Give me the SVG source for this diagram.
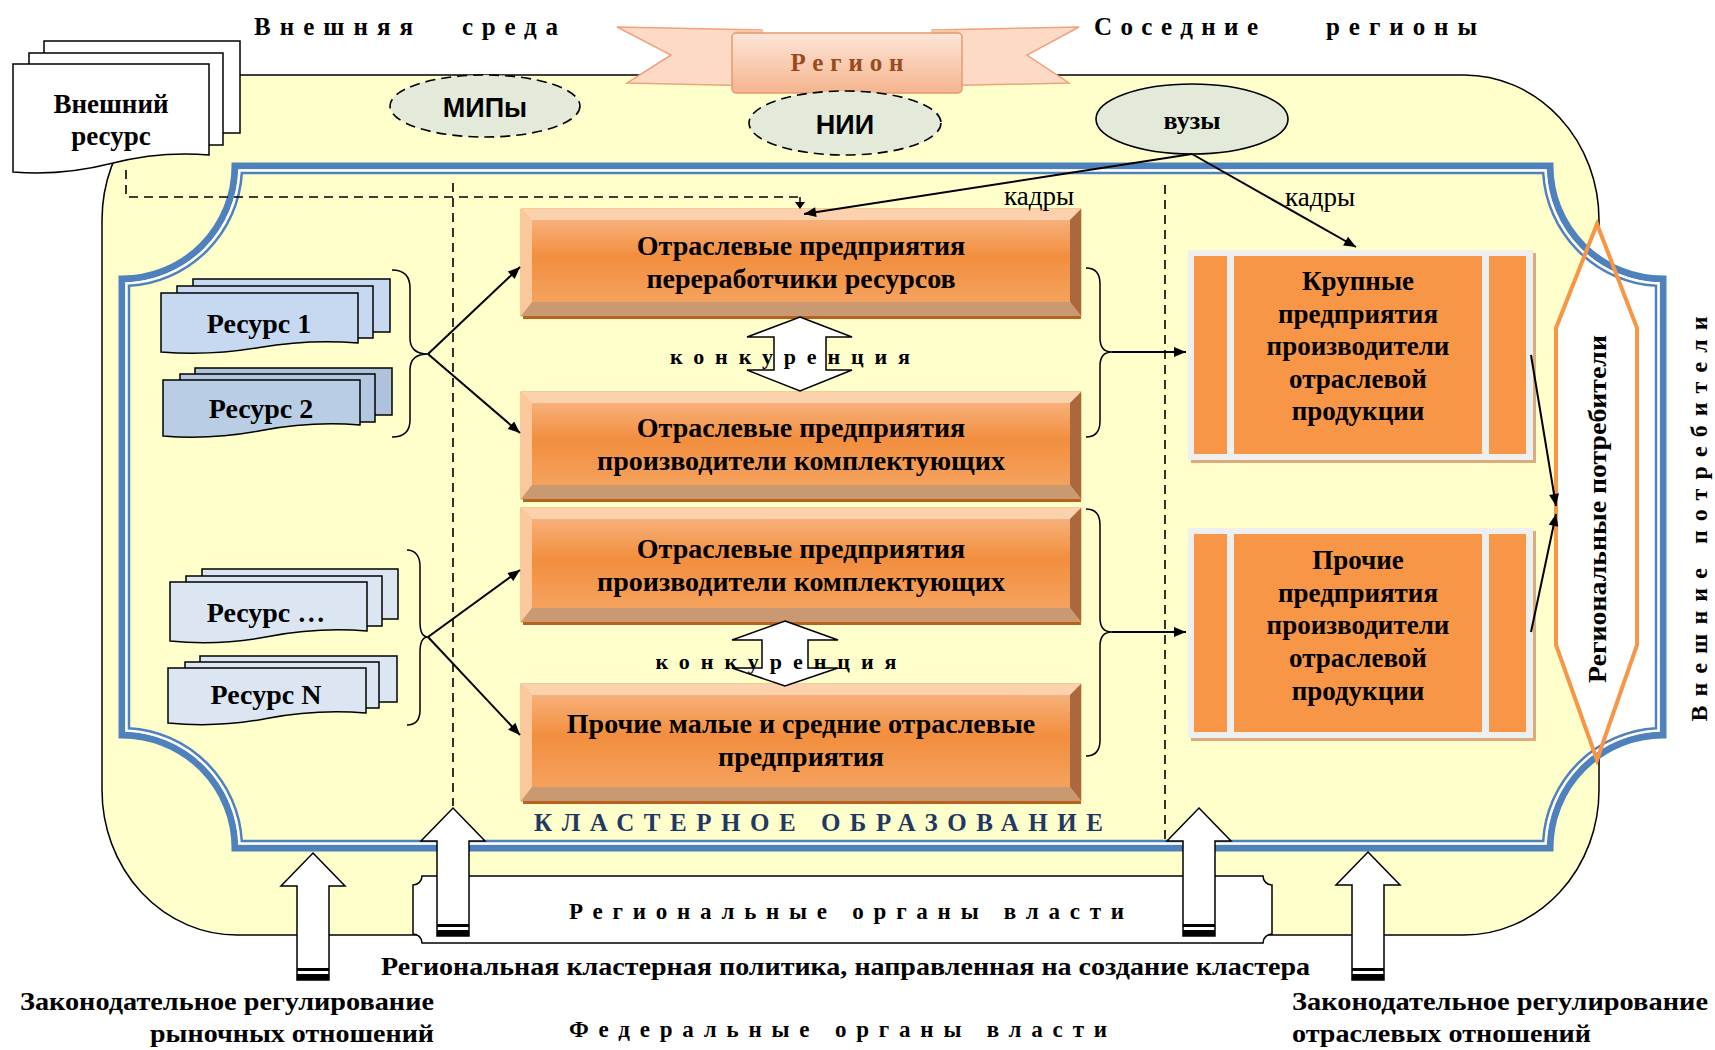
<svg xmlns="http://www.w3.org/2000/svg" width="1715" height="1050" viewBox="0 0 1715 1050">
<defs>
<style>
text{font-family:"Liberation Serif","Times New Roman",serif;font-weight:bold;fill:#000}
.sans{font-family:"Liberation Sans",Arial,sans-serif}
.c{text-anchor:middle}
.bt{font-size:28px}
.rt{font-size:27px}
.bx-o{fill:#f8b584;stroke:#ee9a55;stroke-width:1}
.bv-t{fill:#fcd2ae}
.bv-l{fill:#fbc89e}
.bv-r{fill:#a9683e}
.bv-b{fill:#c99a72}
.bx-s{fill:#b8621e}
.face{fill:url(#face)}
.ln{stroke:#000;stroke-width:2;fill:none}
.br{stroke:#000;stroke-width:1.5;fill:none}
.dash{stroke:#000;stroke-width:1.6;stroke-dasharray:9 6;fill:none}
.doc{stroke:#000;stroke-width:1.5}
.ua{fill:#fff;stroke:#000;stroke-width:1.5}
.ell{fill:#e4ead9;stroke:#000;stroke-width:1.6}
.strip{fill:#f79646}
.rbo{fill:#efefef}
.rbs{fill:#d9ad7f}
.r1{fill:#c6d9f1}
.r2{fill:#b9cde5}
.r3{fill:#dce6f2}
</style>
<linearGradient id="face" x1="0" y1="0" x2="0" y2="1">
<stop offset="0" stop-color="#f7b07a"/><stop offset="0.45" stop-color="#f28e3e"/><stop offset="1" stop-color="#f5a25e"/>
</linearGradient>
<linearGradient id="ban" x1="0" y1="0" x2="0" y2="1">
<stop offset="0" stop-color="#fde6d8"/><stop offset="1" stop-color="#f5b48e"/>
</linearGradient>
<marker id="ah" viewBox="0 0 12 10" refX="12" refY="5" markerWidth="13" markerHeight="10" markerUnits="userSpaceOnUse" orient="auto"><path d="M0,0 L12,5 L0,10 z" fill="#000"/></marker>
</defs>
<rect width="1715" height="1050" fill="#fff"/>

<g id="region">
<rect x="102" y="75" width="1497" height="860" rx="135" ry="145" fill="#ffffcc" stroke="#000" stroke-width="1.5"/>
</g>

<g id="banner">
<polygon points="617,27 762,30 762,86 627,83 671,55" fill="#fddac6" stroke="#f0a27a" stroke-width="1.5"/>
<polygon points="1079,27 932,30 932,86 1069,83 1027,55" fill="#fddac6" stroke="#f0a27a" stroke-width="1.5"/>
<polygon points="735,30 762,30 762,86 735,86" fill="#f8c7ab"/>
<polygon points="932,30 959,30 959,86 932,86" fill="#f8c7ab"/>
<rect x="732" y="33" width="230" height="60" rx="4" fill="url(#ban)" stroke="#e59a70" stroke-width="1.5"/>
<text x="847" y="71" class="c" font-size="25" style="fill:#9a4b1c" textLength="113" lengthAdjust="spacing">Регион</text>
</g>

<g id="titles">
<text x="254" y="35" font-size="25" textLength="159" lengthAdjust="spacing">Внешняя</text>
<text x="462" y="35" font-size="25" textLength="96" lengthAdjust="spacing">среда</text>
<text x="1094" y="35" font-size="25" textLength="164" lengthAdjust="spacing">Соседние</text>
<text x="1326" y="35" font-size="25" textLength="151" lengthAdjust="spacing">регионы</text>
</g>

<g id="external-resource">
<rect x="44" y="41" width="196" height="92" fill="#fff" class="doc"/>
<rect x="29" y="53" width="194" height="92" fill="#fff" class="doc"/>
<path d="M13,64 H209 V155 Q160,151 111,163.5 T13,172 Z" fill="#fff" class="doc"/>
<text x="111" y="113" class="c rt">Внешний</text>
<text x="111" y="145" class="c rt">ресурс</text>
</g>

<g id="mips">
<ellipse cx="485" cy="106" rx="95" ry="31" class="ell" stroke-dasharray="10 6"/>
<text x="485" y="117" class="c sans" font-size="27">МИПы</text>
</g>
<g id="nii">
<ellipse cx="845" cy="123" rx="96" ry="32" class="ell" stroke-dasharray="10 6"/>
<text x="845" y="134" class="c sans" font-size="27">НИИ</text>
</g>
<g id="vuzy">
<ellipse cx="1192" cy="119" rx="96" ry="35" class="ell"/>
<text x="1192" y="129" class="c" font-size="26">вузы</text>
</g>

<g id="regional-consumers">
<polygon points="1597,224 1637,328 1637,645 1597,760 1556,645 1556,328" fill="#fff"/>
</g>

<g id="cluster-frame">
<path d="M235,166 H1550 A113,113 0 0 0 1663,279 V735 A113,113 0 0 0 1550,848 H235 A113,113 0 0 0 122,735 V279 A113,113 0 0 0 235,166 Z" fill="none" stroke="#4f81bd" stroke-width="7"/>
<path d="M239.4,170.5 H1545.6 A117.5,117.5 0 0 0 1658.5,283.4 V730.6 A117.5,117.5 0 0 0 1545.6,843.5 H239.4 A117.5,117.5 0 0 0 126.5,730.6 V283.4 A117.5,117.5 0 0 0 239.4,170.5 Z" fill="none" stroke="#fff" stroke-width="2.5"/>
<path d="M241.8,173 H1543.2 A120,120 0 0 0 1656,285.8 V728.2 A120,120 0 0 0 1543.2,841 H241.8 A120,120 0 0 0 129,728.2 V285.8 A120,120 0 0 0 241.8,173 Z" fill="none" stroke="#4f81bd" stroke-width="2.5"/>
<text x="534" y="831" font-size="25" style="fill:#1f3864" textLength="569" lengthAdjust="spacing">КЛАСТЕРНОЕ ОБРАЗОВАНИЕ</text>
</g>

<g id="regional-consumers-outline">
<polygon points="1597,224 1637,328 1637,645 1597,760 1556,645 1556,328" fill="none" stroke="#f79646" stroke-width="4"/>
<text transform="translate(1606,509) rotate(-90)" class="c" font-size="25" textLength="348" lengthAdjust="spacingAndGlyphs">Региональные потребители</text>
</g>

<g id="external-consumers">
<text transform="translate(1707,519) rotate(-90)" class="c" font-size="24" textLength="405" lengthAdjust="spacing">Внешние потребители</text>
</g>

<g id="regional-authorities">
<path d="M422,876 H1263 A9,9 0 0 0 1272,885 V934 A9,9 0 0 0 1263,943 H422 A9,9 0 0 0 413,934 V885 A9,9 0 0 0 422,876 Z" fill="#fff" stroke="#000" stroke-width="1.5"/>
<text x="569" y="919" font-size="23" textLength="555" lengthAdjust="spacing">Региональные органы власти</text>
</g>

<g id="box1">
<rect x="521" y="209" width="560" height="107" class="bx-o"/>
<polygon points="521,209 1081,209 1070,220 532,220" class="bv-t"/>
<polygon points="521,209 532,220 532,302 521,316" class="bv-l"/>
<polygon points="1081,209 1081,316 1070,302 1070,220" class="bv-r"/>
<polygon points="521,316 532,302 1070,302 1081,316" class="bv-b"/>
<rect x="532" y="220" width="538" height="82" class="face"/>
<rect x="523" y="316" width="558" height="3" class="bx-s"/>
<text x="801" y="255" class="c bt">Отраслевые предприятия</text>
<text x="801" y="288" class="c bt">переработчики ресурсов</text>
</g>

<g id="box2">
<rect x="521" y="392" width="560" height="107" class="bx-o"/>
<polygon points="521,392 1081,392 1070,403 532,403" class="bv-t"/>
<polygon points="521,392 532,403 532,485 521,499" class="bv-l"/>
<polygon points="1081,392 1081,499 1070,485 1070,403" class="bv-r"/>
<polygon points="521,499 532,485 1070,485 1081,499" class="bv-b"/>
<rect x="532" y="403" width="538" height="82" class="face"/>
<rect x="523" y="499" width="558" height="3" class="bx-s"/>
<text x="801" y="437" class="c bt">Отраслевые предприятия</text>
<text x="801" y="470" class="c bt">производители комплектующих</text>
</g>

<g id="box3">
<rect x="521" y="508" width="560" height="114" class="bx-o"/>
<polygon points="521,508 1081,508 1070,519 532,519" class="bv-t"/>
<polygon points="521,508 532,519 532,608 521,622" class="bv-l"/>
<polygon points="1081,508 1081,622 1070,608 1070,519" class="bv-r"/>
<polygon points="521,622 532,608 1070,608 1081,622" class="bv-b"/>
<rect x="532" y="519" width="538" height="89" class="face"/>
<rect x="523" y="622" width="558" height="3" class="bx-s"/>
<text x="801" y="558" class="c bt">Отраслевые предприятия</text>
<text x="801" y="591" class="c bt">производители комплектующих</text>
</g>

<g id="box4">
<rect x="521" y="684" width="560" height="117" class="bx-o"/>
<polygon points="521,684 1081,684 1070,695 532,695" class="bv-t"/>
<polygon points="521,684 532,695 532,787 521,801" class="bv-l"/>
<polygon points="1081,684 1081,801 1070,787 1070,695" class="bv-r"/>
<polygon points="521,801 532,787 1070,787 1081,801" class="bv-b"/>
<rect x="532" y="695" width="538" height="92" class="face"/>
<rect x="523" y="801" width="558" height="3" class="bx-s"/>
<text x="801" y="733" class="c bt">Прочие малые и средние отраслевые</text>
<text x="801" y="766" class="c bt">предприятия</text>
</g>

<g id="competition1">
<polygon points="800,317 852,337 826,337 826,370 852,370 800,391 747,370 774,370 774,337 747,337" class="ua"/>
<text x="790" y="364" class="c" font-size="22" textLength="240" lengthAdjust="spacing">конкуренция</text>
</g>
<g id="competition2">
<polygon points="785,621 838,640 808,640 808,668 838,668 785,686 732,668 762,668 762,640 732,640" class="ua"/>
<text x="776" y="669" class="c" font-size="22" textLength="241" lengthAdjust="spacing">конкуренция</text>
</g>

<g id="resource1">
<rect x="193" y="279" width="197" height="53" class="doc r1"/>
<rect x="177" y="286" width="196" height="52" class="doc r1"/>
<path d="M161,293 H358 V343 Q309,339 259.5,347.5 T161,352 Z" class="doc r1"/>
<text x="259" y="333" class="c bt">Ресурс 1</text>
</g>
<g id="resource2">
<rect x="195" y="368" width="197" height="47" class="doc" fill="#aec2dc"/>
<rect x="180" y="374" width="195" height="48" class="doc" fill="#b3c7e0"/>
<path d="M163,380 H360 V425 Q311,421 261.5,430.5 T163,436 Z" class="doc r2"/>
<text x="261" y="418" class="c bt">Ресурс 2</text>
</g>
<g id="resource3">
<rect x="202" y="569" width="196" height="50" class="doc r3"/>
<rect x="186" y="576" width="196" height="50" class="doc r3"/>
<path d="M170,582 H367 V631 Q318,627 268.5,636.5 T170,641 Z" class="doc r3"/>
<text x="266" y="622" class="c bt">Ресурс …</text>
</g>
<g id="resourceN">
<rect x="200" y="656" width="197" height="46" class="doc r3"/>
<rect x="185" y="662" width="194" height="46" class="doc r3"/>
<path d="M168,668 H366 V713 Q316,709 266.5,718.5 T168,723 Z" class="doc r3"/>
<text x="266" y="704" class="c bt">Ресурс N</text>
</g>

<g id="large-enterprises">
<rect x="1191" y="253" width="345" height="210" class="rbs"/>
<rect x="1188" y="250" width="345" height="210" class="rbo"/>
<rect x="1194" y="256" width="33" height="198" class="strip"/>
<rect x="1234" y="256" width="248" height="198" class="strip"/>
<rect x="1489" y="256" width="37" height="198" class="strip"/>
<text x="1358" y="290" class="c rt">Крупные</text>
<text x="1358" y="323" class="c rt">предприятия</text>
<text x="1358" y="355" class="c rt">производители</text>
<text x="1358" y="388" class="c rt">отраслевой</text>
<text x="1358" y="420" class="c rt">продукции</text>
</g>

<g id="other-enterprises">
<rect x="1191" y="531" width="345" height="210" class="rbs"/>
<rect x="1188" y="528" width="345" height="210" class="rbo"/>
<rect x="1194" y="534" width="33" height="198" class="strip"/>
<rect x="1234" y="534" width="248" height="198" class="strip"/>
<rect x="1489" y="534" width="37" height="198" class="strip"/>
<text x="1358" y="569" class="c rt">Прочие</text>
<text x="1358" y="602" class="c rt">предприятия</text>
<text x="1358" y="634" class="c rt">производители</text>
<text x="1358" y="667" class="c rt">отраслевой</text>
<text x="1358" y="700" class="c rt">продукции</text>
</g>

<g id="connectors">
<path d="M126,170 V197 H800" class="dash"/>
<line x1="800" y1="197" x2="800" y2="203" stroke="#000" stroke-width="1.5"/>
<polygon points="795,202 805,202 800,209" fill="#000"/>
<line x1="453" y1="183" x2="453" y2="806" class="dash"/>
<line x1="1165" y1="185" x2="1165" y2="845" class="dash"/>
<line x1="1192" y1="154" x2="804" y2="214" class="ln" marker-end="url(#ah)"/>
<line x1="1192" y1="154" x2="1356" y2="247" class="ln" marker-end="url(#ah)"/>
<path d="M392,270 C404,270 410,276 410,288 L410,338 C410,348 416,354 428,354 C416,354 410,360 410,370 L410,420 C410,432 404,437 392,437" class="br"/>
<path d="M407,550 C415,550 420,556 420,566 L420,622 C420,632 423,637 428,637 C423,637 420,642 420,652 L420,710 C420,720 415,725 407,725" class="br"/>
<path d="M1086,268 C1096,268 1100,274 1100,284 L1100,338 C1100,347 1104,352 1112,352 C1104,352 1100,357 1100,366 L1100,421 C1100,431 1096,437 1086,437" class="br"/>
<path d="M1086,509 C1096,509 1100,515 1100,525 L1100,618 C1100,627 1104,632 1112,632 C1104,632 1100,637 1100,646 L1100,740 C1100,750 1096,756 1086,756" class="br"/>
<line x1="428" y1="354" x2="520" y2="267" class="ln" marker-end="url(#ah)"/>
<line x1="428" y1="354" x2="520" y2="433" class="ln" marker-end="url(#ah)"/>
<line x1="428" y1="637" x2="520" y2="570" class="ln" marker-end="url(#ah)"/>
<line x1="428" y1="637" x2="520" y2="735" class="ln" marker-end="url(#ah)"/>
<line x1="1112" y1="352" x2="1186" y2="352" class="ln" marker-end="url(#ah)"/>
<line x1="1112" y1="632" x2="1186" y2="632" class="ln" marker-end="url(#ah)"/>
<line x1="1531" y1="355" x2="1556" y2="506" class="ln" marker-end="url(#ah)"/>
<line x1="1531" y1="632" x2="1556" y2="514" class="ln" marker-end="url(#ah)"/>
<text x="1004" y="205" font-size="27" style="font-weight:normal">кадры</text>
<text x="1285" y="206" font-size="27" style="font-weight:normal">кадры</text>
</g>

<g id="up-arrows">
<polygon points="313,853 345,886 329,886 329,980 297,980 297,886 281,886" class="ua"/>
<rect x="297" y="968" width="32" height="3" fill="#000"/><rect x="297" y="974" width="32" height="6" fill="#000"/>
<polygon points="453,808 485,841 469,841 469,936 437,936 437,841 421,841" class="ua"/>
<rect x="437" y="924" width="32" height="3" fill="#000"/><rect x="437" y="930" width="32" height="6" fill="#000"/>
<polygon points="1199,808 1231,841 1215,841 1215,936 1183,936 1183,841 1167,841" class="ua"/>
<rect x="1183" y="924" width="32" height="3" fill="#000"/><rect x="1183" y="930" width="32" height="6" fill="#000"/>
<polygon points="1368,852 1400,885 1384,885 1384,980 1352,980 1352,885 1336,885" class="ua"/>
<rect x="1352" y="968" width="32" height="3" fill="#000"/><rect x="1352" y="974" width="32" height="6" fill="#000"/>
</g>

<g id="bottom-labels">
<text x="381" y="975" font-size="25" textLength="929" lengthAdjust="spacingAndGlyphs">Региональная кластерная политика, направленная на создание кластера</text>
<text x="20" y="1010" font-size="25" textLength="414" lengthAdjust="spacingAndGlyphs">Законодательное регулирование</text>
<text x="150" y="1042" font-size="25" textLength="284" lengthAdjust="spacingAndGlyphs">рыночных отношений</text>
<text x="1292" y="1010" font-size="25" textLength="416" lengthAdjust="spacingAndGlyphs">Законодательное регулирование</text>
<text x="1292" y="1042" font-size="25" textLength="299" lengthAdjust="spacingAndGlyphs">отраслевых отношений</text>
<text x="569" y="1037" font-size="23" textLength="538" lengthAdjust="spacing">Федеральные органы власти</text>
</g>
</svg>
